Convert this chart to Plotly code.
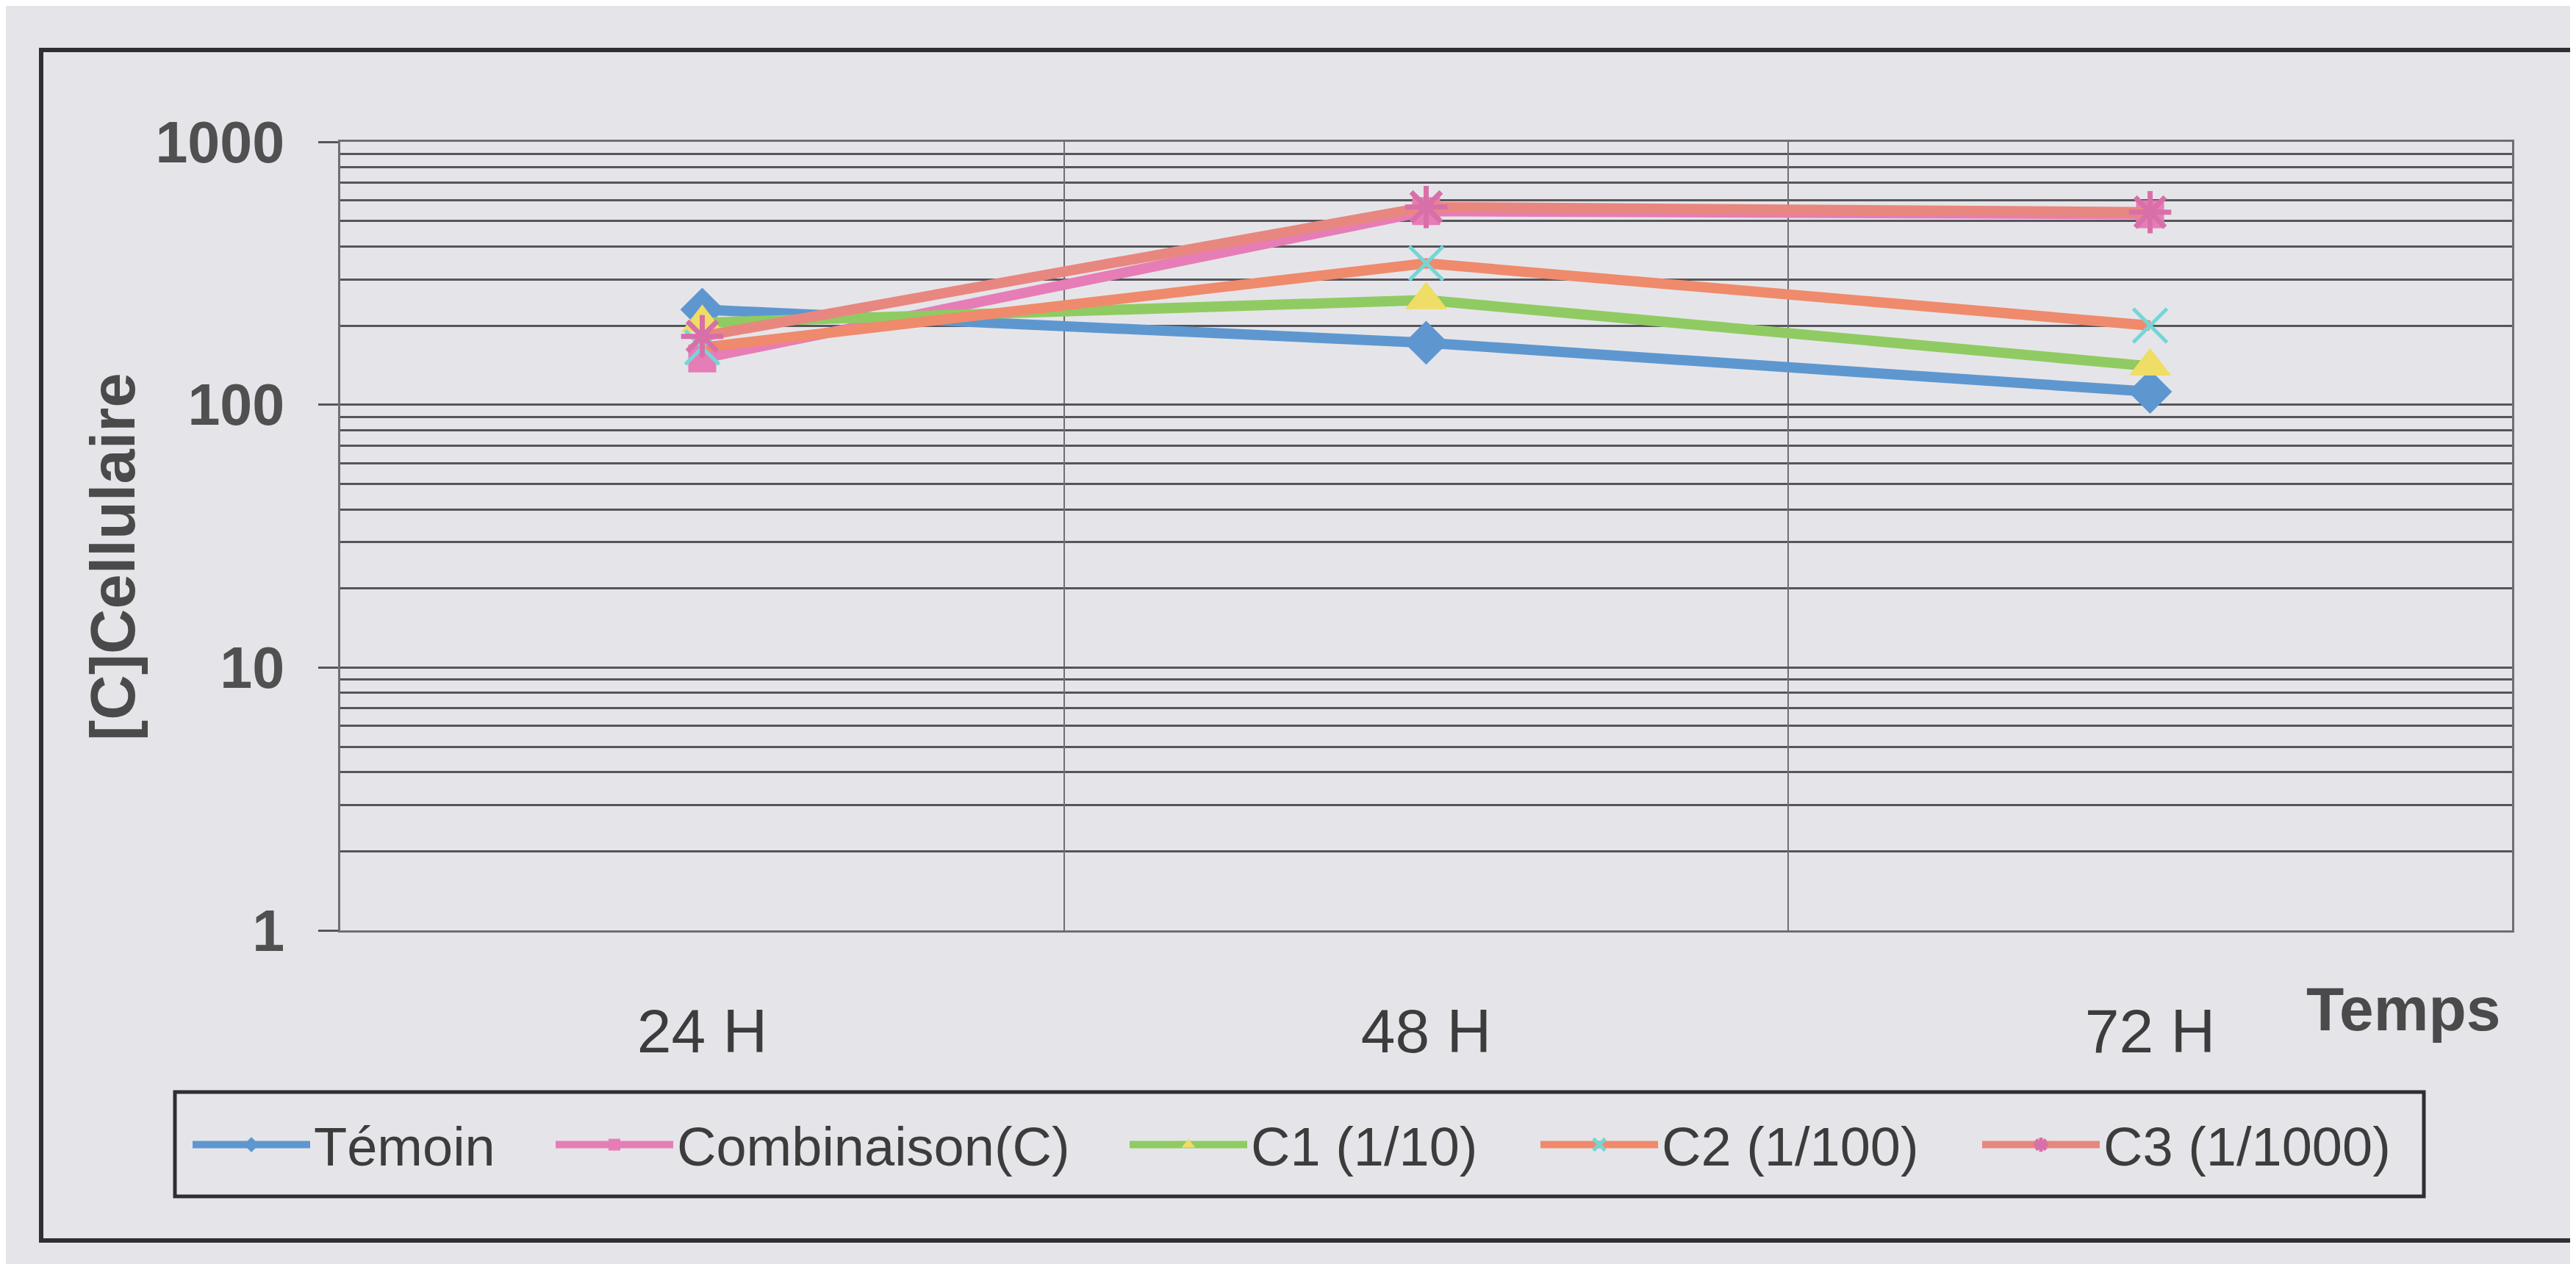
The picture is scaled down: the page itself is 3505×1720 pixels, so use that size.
import plotly.graph_objects as go

# ---------------- data ----------------
categories = ["24 H", "48 H", "72 H"]
temoin = [230, 172, 112]
combinaison = [150, 545, 530]
c1 = [205, 250, 140]
c2 = [165, 345, 200]
c3 = [182, 565, 540]
y_tickvals = [1, 10, 100, 1000]
y_ticktext = ["1", "10", "100", "1000"]
y_minor = [m * 10 ** e for e in range(3) for m in range(2, 10)]

# ---------------- geometry ----------------
W, H = 3505, 1720
L, R, T, B = 455, 3410, 185, 1258


def px(x):
    return (x - L) / (R - L)


def py(y):
    return (B - y) / (B - T)


BG = "#E5E5E9"
TXT = "#3c3c3c"
FONT = "Liberation Sans, Arial, sans-serif"

series = [
    dict(name="Témoin", y=temoin, line="#5E97CF", mcol="#5E97CF", symbol="diamond",
         msize=46, mline=0, leg="legend", lx=259),
    dict(name="Combinaison(C)", y=combinaison, line="#E67DB6", mcol="#E67DB6", symbol="square",
         msize=38, mline=0, leg="legend2", lx=753),
    dict(name="C1 (1/10)", y=c1, line="#8FCB62", mcol="#EFDD66", symbol="triangle-up",
         msize=50, mline=0, leg="legend3", lx=1534),
    dict(name="C2 (1/100)", y=c2, line="#EF8A6C", mcol="#74D6D6", symbol="x-thin-open",
         msize=46, mline=5, leg="legend4", lx=2093),
    dict(name="C3 (1/1000)", y=c3, line="#E8877F", mcol="#D96FA8", symbol="asterisk-open",
         msize=48, mline=7, leg="legend5", lx=2694),
]

fig = go.Figure()
for s in series:
    mk = dict(symbol=s["symbol"], size=s["msize"], color=s["mcol"])
    if s["mline"]:
        mk["line"] = dict(color=s["mcol"], width=s["mline"])
    fig.add_trace(go.Scatter(
        x=categories, y=s["y"], name=s["name"], mode="lines+markers",
        line=dict(color=s["line"], width=14), marker=mk, legend=s["leg"],
    ))

legend_common = dict(
    orientation="h", xanchor="left", yanchor="middle", bgcolor="rgba(0,0,0,0)",
    borderwidth=0, font=dict(family=FONT, size=74, color=TXT), itemwidth=160,
)
for s in series:
    fig.update_layout({s["leg"]: dict(legend_common, x=px(s["lx"] - 10), y=py(1550))})

fig.update_xaxes(
    type="category", range=[-0.5, 2.5], tickson="boundaries",
    showgrid=True, gridcolor="#6e6e74", gridwidth=2,
    showline=True, linecolor="#6e6e74", linewidth=3, mirror=True,
    ticks="", ticklabelstandoff=62,
    tickfont=dict(family=FONT, size=84, color=TXT),
)
fig.update_yaxes(
    type="log", range=[0, 3], tickmode="array", tickvals=y_tickvals, ticktext=y_ticktext,
    showgrid=True, gridcolor="#55555c", gridwidth=3,
    minor=dict(tickmode="array", tickvals=y_minor, showgrid=True, gridcolor="#55555c",
               gridwidth=3, ticks=""),
    showline=True, linecolor="#6e6e74", linewidth=3, mirror=True,
    ticks="outside", ticklen=27, tickwidth=3, tickcolor="#55555c",
    ticklabelstandoff=30,
    tickfont=dict(family=FONT, size=79, color="#505050", weight="bold"),
)

fig.update_layout(
    width=W, height=H,
    margin=dict(l=L, r=W - R, t=T, b=H - B),
    paper_bgcolor=BG, plot_bgcolor=BG,
    font=dict(family=FONT, color=TXT),
    showlegend=True,
    annotations=[
        dict(text="<b>[C]Cellulaire</b>", x=px(145), y=py(750), xref="paper", yref="paper",
             textangle=-90, showarrow=False, xanchor="center", yanchor="middle",
             font=dict(family=FONT, size=85, color="#4a4a4a")),
        dict(text="<b>Temps</b>", x=px(3262), y=py(1365), xref="paper", yref="paper",
             showarrow=False, xanchor="center", yanchor="middle",
             font=dict(family=FONT, size=84, color="#4a4a4a")),
    ],
    shapes=[
        dict(type="rect", xref="paper", yref="paper", x0=px(230), x1=px(3290),
             y0=py(1478), y1=py(1620), line=dict(color="#2e2e34", width=5)),
        dict(type="rect", xref="paper", yref="paper", x0=px(48), x1=px(3492),
             y0=py(60), y1=py(1680), line=dict(color="#2e2e34", width=6)),
    ],
)

fig.write_html("out.html")
